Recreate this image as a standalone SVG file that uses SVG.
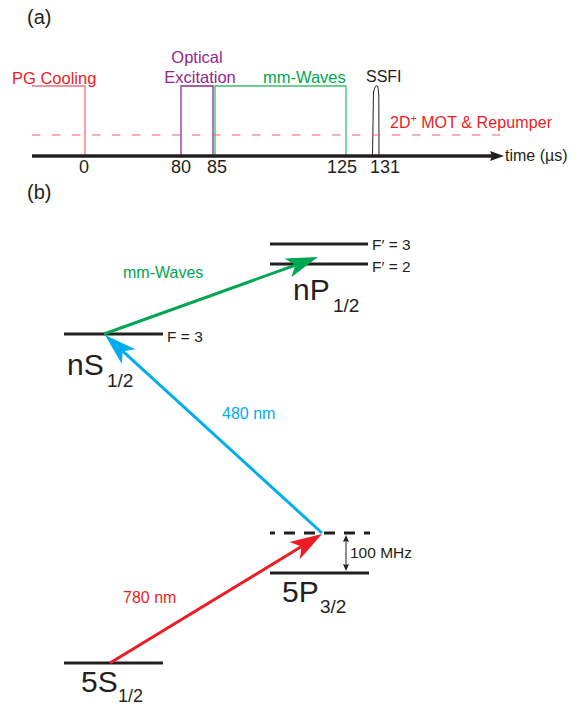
<svg xmlns="http://www.w3.org/2000/svg" width="581" height="707" viewBox="0 0 581 707">
<style>
text{font-family:"Liberation Sans","DejaVu Sans",sans-serif;}
.lbl{font-size:16px;}
.num{font-size:18px;fill:#231f20;text-anchor:middle;}
.lvl{stroke:#231f20;stroke-width:3;fill:none;}
.fl{font-size:15.5px;fill:#231f20;}
.big{font-size:30px;fill:#231f20;}
.sub{font-size:19px;fill:#231f20;}
</style>
<defs>
<marker id="ahR" markerUnits="userSpaceOnUse" orient="auto" markerWidth="60" markerHeight="60" refX="0" refY="0" overflow="visible"><path d="M24,0 L-8,-10 L0,0 L-8,10 Z" fill="#ED1C24"/></marker>
<marker id="ahB" markerUnits="userSpaceOnUse" orient="auto" markerWidth="60" markerHeight="60" refX="0" refY="0" overflow="visible"><path d="M24,0 L-8,-10 L0,0 L-8,10 Z" fill="#00AEEF"/></marker>
<marker id="ahG" markerUnits="userSpaceOnUse" orient="auto" markerWidth="60" markerHeight="60" refX="0" refY="0" overflow="visible"><path d="M24,0 L-8,-10 L0,0 L-8,10 Z" fill="#00A651"/></marker>
<marker id="ahK" markerUnits="userSpaceOnUse" orient="auto" markerWidth="20" markerHeight="20" refX="0" refY="0" overflow="visible"><path d="M6,0 L-1,-3 L0,0 L-1,3 Z" fill="#231f20"/></marker>
<marker id="ahAx" markerUnits="userSpaceOnUse" orient="auto" markerWidth="30" markerHeight="30" refX="0" refY="0" overflow="visible"><path d="M12,0 L-2,-5 L0,0 L-2,5 Z" fill="#231f20"/></marker>
</defs>

<g id="panel-labels">
<text x="27" y="24" style="font-size:20px;fill:#231f20">(a)</text>
<text x="27" y="199" style="font-size:20px;fill:#231f20">(b)</text>
</g>

<g id="pg-cooling">
<polyline points="32,86 85,86 85,156" fill="none" stroke="#F2707E" stroke-width="1.3"/>
<text x="12" y="84" style="font-size:16.5px" fill="#ED1C24">PG Cooling</text>
</g>

<g id="optical-excitation">
<polyline points="181,156 181,86 213,86 213,156" fill="none" stroke="#92278F" stroke-width="1.3"/>
<text x="197" y="63" style="font-size:16.5px" fill="#92278F" text-anchor="middle">Optical</text>
<text x="200" y="83" style="font-size:16.5px" fill="#92278F" text-anchor="middle">Excitation</text>
</g>

<g id="mm-waves-pulse">
<polyline points="215,156 215,86 346,86 346,156" fill="none" stroke="#3DBE6E" stroke-width="1.3"/>
<text x="263" y="83" style="font-size:16.5px" fill="#00A651">mm-Waves</text>
</g>

<g id="ssfi">
<path d="M372.5,156 L373.5,92 Q375.5,84 377.5,86 Q378.5,88 378.8,96 L379,156" fill="none" stroke="#231f20" stroke-width="1"/>
<text x="366" y="82" style="font-size:16px" fill="#231f20">SSFI</text>
</g>

<g id="mot-repumper">
<line x1="32" y1="135" x2="508" y2="135" stroke="#F0606E" stroke-width="1.2" stroke-dasharray="8.5 11.5"/>
<text x="390" y="128" class="lbl" fill="#ED1C24" textLength="162">2D<tspan font-size="10" dy="-6">+</tspan><tspan dy="6"> MOT &amp; Repumper</tspan></text>
</g>

<g id="axis">
<line x1="32" y1="156" x2="492" y2="156" stroke="#231f20" stroke-width="3.5" marker-end="url(#ahAx)"/>
<text x="505" y="161" style="font-size:16px;fill:#231f20">time (µs)</text>
<text x="84" y="173" class="num">0</text>
<text x="181" y="173" class="num">80</text>
<text x="217" y="173" class="num">85</text>
<text x="342" y="173" class="num">125</text>
<text x="385" y="173" class="num">131</text>
</g>

<g id="level-nP">
<line x1="270" y1="244" x2="368" y2="244" class="lvl"/>
<line x1="270" y1="264" x2="368" y2="264" class="lvl"/>
<text x="372" y="249.5" class="fl">F′ = 3</text>
<text x="372" y="271.5" class="fl">F′ = 2</text>
<text x="293" y="300" class="big">nP</text>
<text x="333" y="312" class="sub">1/2</text>
</g>

<g id="level-nS">
<line x1="64" y1="334" x2="163" y2="334" class="lvl"/>
<text x="167" y="341.5" class="fl">F = 3</text>
<text x="67" y="375" class="big">nS</text>
<text x="107" y="387" class="sub">1/2</text>
</g>

<g id="level-virtual">
<line x1="270" y1="533" x2="370" y2="533" stroke="#231f20" stroke-width="3" stroke-dasharray="11 9" stroke-dashoffset="6"/>
</g>

<g id="level-5P">
<line x1="270" y1="573" x2="369" y2="573" class="lvl"/>
<text x="282" y="602" class="big">5P</text>
<text x="320" y="613" class="sub">3/2</text>
</g>

<g id="level-5S">
<line x1="64" y1="663" x2="163" y2="663" class="lvl"/>
<text x="81" y="692" class="big">5S</text>
<text x="118" y="702" style="font-size:18px;fill:#231f20">1/2</text>
</g>

<g id="connectors">
<line x1="104" y1="334" x2="295.4" y2="265.1" stroke="#00A651" stroke-width="3" marker-end="url(#ahG)"/>
<line x1="322" y1="533" x2="122.7" y2="351.2" stroke="#00AEEF" stroke-width="3" marker-end="url(#ahB)"/>
<line x1="110" y1="663" x2="301.5" y2="546.5" stroke="#ED1C24" stroke-width="3" marker-end="url(#ahR)"/>
<line x1="346" y1="553" x2="346" y2="541" stroke="#231f20" stroke-width="1" marker-end="url(#ahK)"/>
<line x1="346" y1="553" x2="346" y2="565" stroke="#231f20" stroke-width="1" marker-end="url(#ahK)"/>
</g>

<g id="labels">
<text x="123" y="278" style="font-size:16px;fill:#00A651">mm-Waves</text>
<text x="222" y="419" style="font-size:16px;fill:#00AEEF">480 nm</text>
<text x="123" y="603" style="font-size:16px;fill:#ED1C24">780 nm</text>
<text x="350" y="558" class="fl">100 MHz</text>
</g>
</svg>
